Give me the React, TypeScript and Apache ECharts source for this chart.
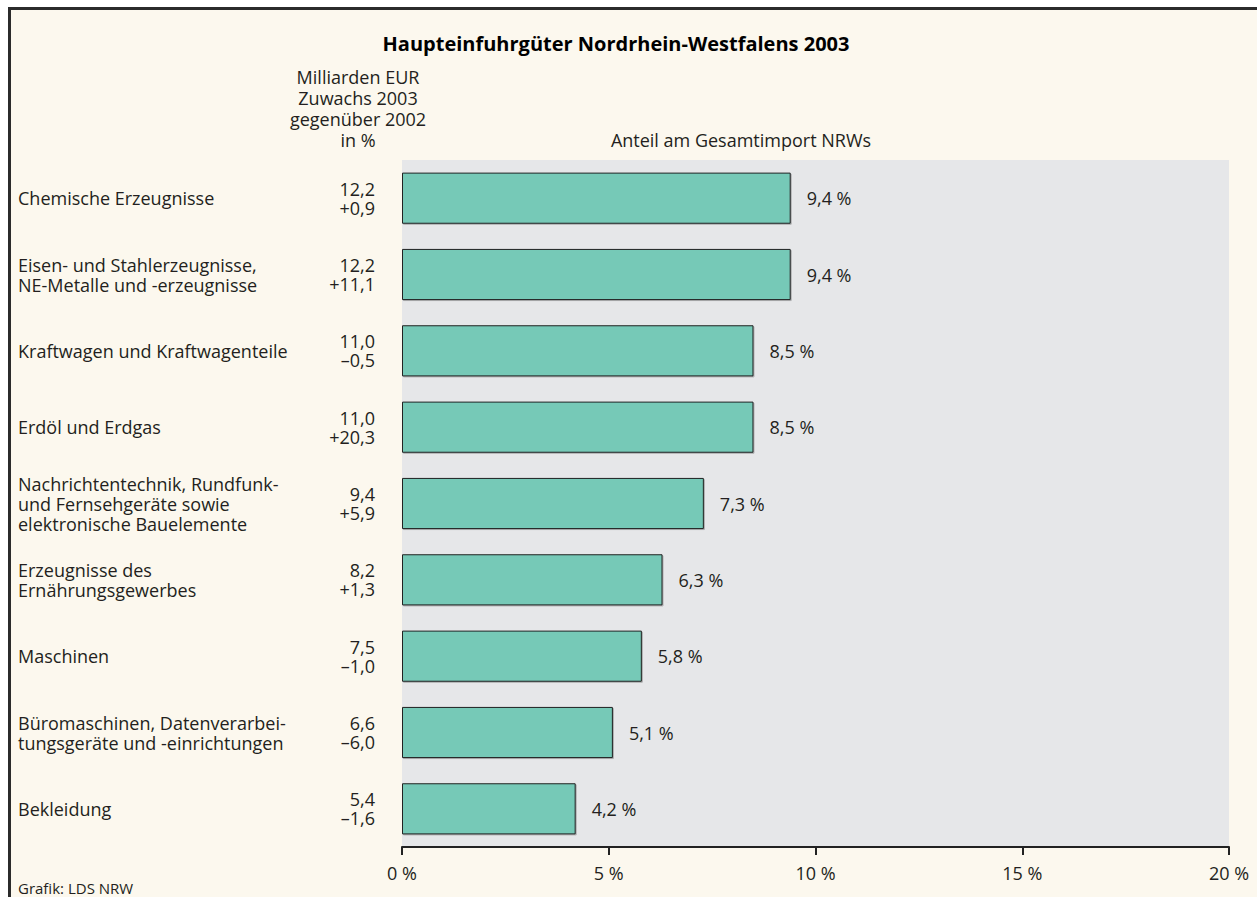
import React, { useEffect, useRef } from "react";
import * as echarts from "echarts";

const categories = [
  "Chemische Erzeugnisse",
  "Eisen- und Stahlerzeugnisse,\nNE-Metalle und -erzeugnisse",
  "Kraftwagen und Kraftwagenteile",
  "Erdöl und Erdgas",
  "Nachrichtentechnik, Rundfunk-\nund Fernsehgeräte sowie\nelektronische Bauelemente",
  "Erzeugnisse des\nErnährungsgewerbes",
  "Maschinen",
  "Büromaschinen, Datenverarbei-\ntungsgeräte und -einrichtungen",
  "Bekleidung",
];
const shareValues = [9.4, 9.4, 8.5, 8.5, 7.3, 6.3, 5.8, 5.1, 4.2];
const euroBillions = [12.2, 12.2, 11.0, 11.0, 9.4, 8.2, 7.5, 6.6, 5.4];
const changePercent = [0.9, 11.1, -0.5, 20.3, 5.9, 1.3, -1.0, -6.0, -1.6];
const xTicks = [0, 5, 10, 15, 20];

const FONT = "'Open Sans', 'Noto Sans', sans-serif";
const TEXT = "#231f20";

const de = (v: number) => v.toFixed(1).replace(".", ",");
const signed = (v: number) => (v < 0 ? "\u2013" + de(-v) : "+" + de(v));

export default function App() {
  const ref = useRef<HTMLDivElement>(null);
  useEffect(() => {
    if (!ref.current) return;
    const chart = echarts.init(ref.current, null, { renderer: "svg" });
    chart.setOption({
      animation: false,
      backgroundColor: "#ffffff",
      textStyle: { fontFamily: FONT },
      graphic: [
        { type: "rect", shape: { x: 8, y: 7, width: 1249, height: 890 }, style: { fill: "#fcf8ee" }, z: -10 },
        { type: "line", shape: { x1: 8, y1: 8.5, x2: 1257, y2: 8.5 }, style: { stroke: "#2b2b2b", lineWidth: 3 }, z: 10 },
        { type: "line", shape: { x1: 9.5, y1: 7, x2: 9.5, y2: 897 }, style: { stroke: "#2b2b2b", lineWidth: 3 }, z: 10 },
        {
          type: "text", x: 616, y: 43, z: 10,
          style: { text: "Haupteinfuhrgüter Nordrhein-Westfalens 2003", fontFamily: FONT, fontWeight: "bold", fontSize: 20, fill: "#000", align: "center", verticalAlign: "middle" },
        },
        {
          type: "text", x: 358, y: 66, z: 10,
          style: { text: "Milliarden EUR\nZuwachs 2003\ngegenüber 2002\nin %", fontFamily: FONT, fontSize: 18, lineHeight: 21, fill: TEXT, align: "center" },
        },
        {
          type: "text", x: 741, y: 140, z: 10,
          style: { text: "Anteil am Gesamtimport NRWs", fontFamily: FONT, fontSize: 18, fill: TEXT, align: "center", verticalAlign: "middle" },
        },
        {
          type: "text", x: 18, y: 888, z: 10,
          style: { text: "Grafik: LDS NRW", fontFamily: FONT, fontSize: 15, fill: TEXT, verticalAlign: "middle" },
        },
      ],
      grid: {
        left: 402, top: 160, width: 827, height: 687,
        show: true, backgroundColor: "#e6e7e9", borderWidth: 0,
      },
      xAxis: {
        type: "value", min: 0, max: 20, interval: 5,
        axisLine: { show: true, lineStyle: { color: "#222", width: 2 } },
        axisTick: { show: true, length: 8, lineStyle: { color: "#222", width: 2 } },
        splitLine: { show: false },
        axisLabel: {
          margin: 17, fontSize: 18, color: TEXT, fontFamily: FONT,
          formatter: (v: number) => (xTicks.includes(v) ? v + " %" : ""),
        },
      },
      yAxis: [
        {
          type: "category", data: categories, inverse: true,
          axisLine: { show: false }, axisTick: { show: false },
          axisLabel: { align: "left", margin: 384, fontSize: 18, lineHeight: 20, color: TEXT, fontFamily: FONT },
        },
        {
          type: "category", data: categories, inverse: true, position: "left",
          axisLine: { show: false }, axisTick: { show: false },
          axisLabel: {
            align: "right", margin: 27, fontSize: 18, lineHeight: 19, color: TEXT, fontFamily: FONT,
            formatter: (_v: string, i: number) => de(euroBillions[i]) + "\n" + signed(changePercent[i]),
          },
        },
      ],
      series: [
        {
          type: "bar",
          data: shareValues,
          barCategoryGap: "33%",
          itemStyle: {
            color: "#76c9b7", borderColor: "#222", borderWidth: 1,
            shadowColor: "rgba(0,0,0,0.25)", shadowOffsetX: 1, shadowOffsetY: 1, shadowBlur: 1,
          },
          label: {
            show: true, position: "right", distance: 16, fontSize: 18, color: TEXT, fontFamily: FONT,
            formatter: (p: any) => de(p.value) + " %",
          },
        },
      ],
    });
    return () => chart.dispose();
  }, []);
  return <div ref={ref} style={{ position: "fixed", left: 0, top: 0, width: 1257, height: 897 }} />;
}
